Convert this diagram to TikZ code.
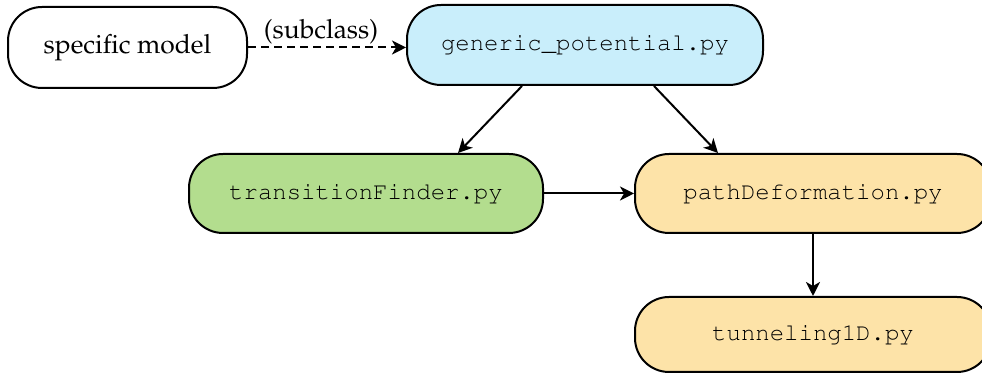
\documentclass[tikz,border=0pt]{standalone}
\usepackage[T1]{fontenc}
\usepackage{mathpazo}
\usepackage{courier}
\usetikzlibrary{arrows.meta,calc}
\definecolor{cblue}{HTML}{C9EEFB}
\definecolor{cgreen}{HTML}{B3DD8E}
\definecolor{cyellow}{HTML}{FDE3A8}
\tikzset{
  box/.style={draw=black, line width=1pt, rounded corners=17pt, inner sep=0pt, align=center, font=\fontsize{13.2}{15}\selectfont},
  codebox/.style={box, font=\fontsize{12}{14}\ttfamily\selectfont},
  arr/.style={-{Stealth[length=7pt,width=7pt,inset=2pt]}, line width=1pt},
}
\begin{document}
\begin{tikzpicture}[x=1pt,y=1pt]
\useasboundingbox (0,0) rectangle (491,186.5);
\node[box, fill=white, minimum width=119.5pt, minimum height=40.5pt] (spec) at (63.75,162.75) {specific model};
\node[codebox, fill=cblue, minimum width=178pt, minimum height=40pt] (gen) at (292.5,164) {generic\_potential.py};
\node[codebox, fill=cgreen, minimum width=177pt, minimum height=39.5pt] (trans) at (183,89.75) {transitionFinder.py};
\node[codebox, fill=cyellow, minimum width=178pt, minimum height=39.5pt] (path) at (406.5,89.75) {pathDeformation.py};
\node[codebox, fill=cyellow, minimum width=178pt, minimum height=37.5pt] (tun) at (406.5,19.25) {tunneling1D.py};
\coordinate (dend) at (spec.east -| gen.west);
\draw[arr, dash pattern=on 4pt off 2.5pt] (spec.east) -- node[xshift=-3pt, yshift=8pt, inner sep=0pt, font=\fontsize{13.2}{15}\selectfont] (lbl) {(subclass)} (dend);
\draw[arr] ([xshift=-31.5pt]gen.south) -- ([xshift=46pt]trans.north);
\draw[arr] ([xshift=34.5pt]gen.south) -- ([xshift=-47.5pt]path.north);
\draw[arr] (trans.east) -- (path.west);
\draw[arr] (path.south) -- (tun.north);
\end{tikzpicture}
\end{document}
